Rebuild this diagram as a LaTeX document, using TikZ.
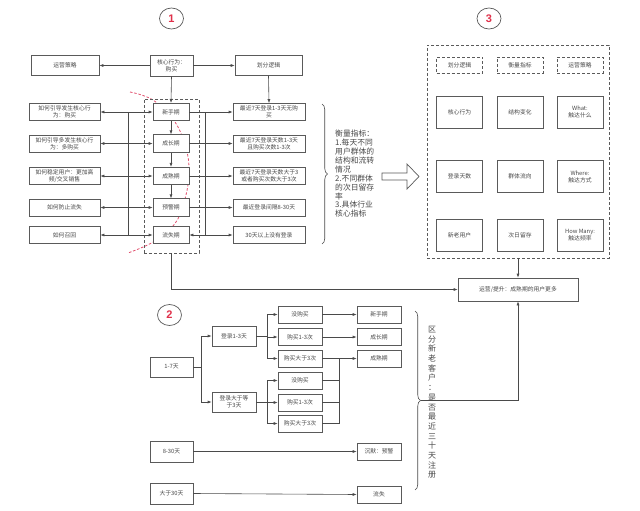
\documentclass[tikz,border=0pt]{standalone}
\usepackage{fontspec}
\setmainfont{Noto Sans CJK SC}
\newfontfamily\numfont{Liberation Sans}
\usetikzlibrary{arrows.meta,calc,decorations.pathreplacing,shapes.geometric}
\definecolor{bc}{HTML}{5A5A5A}
\definecolor{tc}{HTML}{484848}
\definecolor{lc}{HTML}{4A4A4A}
\definecolor{rc}{HTML}{E2506E}
\definecolor{nc}{HTML}{E0304A}
\begin{document}
\begin{tikzpicture}[x=1pt,y=-1pt,
  box/.style={draw=bc, fill=white, line width=0.6pt, inner sep=0.5pt, align=center, text=tc, font=\fontsize{5.8}{7}\selectfont},
  dbox/.style={box, dash pattern=on 3pt off 2pt},
  conn/.style={draw=lc, line width=0.6pt},
  arr/.style={conn, -{Latex[length=4pt,width=3pt]}},
  darr/.style={conn, {Latex[length=4pt,width=3pt]}-{Latex[length=4pt,width=3pt]}},
  grp/.style={draw=bc, dash pattern=on 3pt off 2pt, line width=0.6pt, inner sep=0pt},
  numc/.style={draw=bc, ellipse, line width=0.7pt, minimum width=24pt, minimum height=21pt, inner sep=0pt, text=nc, font=\numfont\fontsize{11}{11}\selectfont\bfseries},
  stg/.style={box, minimum width=36pt, minimum height=17.5pt},
  lft/.style={box, minimum width=71pt, minimum height=17pt},
  rgt/.style={box, minimum width=72pt, minimum height=17pt},
  sb/.style={box, minimum width=44pt, minimum height=17pt},
  tb/.style={box, minimum width=46pt, minimum height=32pt},
  hb/.style={dbox, minimum width=46pt, minimum height=16pt},
  brc/.style={conn, decorate, decoration={brace, amplitude=5.5pt}}
]
\useasboundingbox (0,0) rectangle (640,511);
\fill[white] (0,0) rectangle (640,511);

% ---------- Section 1 ----------
\node[numc] (n1) at (171.5,18.5) {1};

\draw[rc, line width=0.8pt, dash pattern=on 2.5pt off 1.8pt] plot[smooth, tension=0.6] coordinates {(130,92) (153,100) (175,122) (186,148) (189,170) (186,195) (176,222) (155,241) (128,253)};

\node[grp, minimum width=55pt, minimum height=154pt] (g1) at (171.5,176) {};

\node[box, minimum width=43pt, minimum height=21pt] (core) at (171.5,65.5) {核心行为：\\购买};
\node[box, minimum width=68pt, minimum height=20pt] (yy) at (65,65.5) {运营策略};
\node[box, minimum width=67pt, minimum height=20pt] (hf) at (268.5,65.5) {划分逻辑};

\node[stg] (S1) at (171,112) {新手期};
\node[stg] (S2) at (171,143.5) {成长期};
\node[stg] (S3) at (171,176) {成熟期};
\node[stg] (S4) at (171,207.5) {预警期};
\node[stg] (S5) at (171,235) {流失期};

\node[lft] (L1) at (64.5,112) {如何引导发生核心行\\为：购买};
\node[lft] (L2) at (64.5,143.5) {如何引导多发生核心行\\为：多购买};
\node[lft] (L3) at (64.5,176) {如何稳定用户：更加高\\频/交叉销售};
\node[lft] (L4) at (64.5,207.5) {如何防止流失};
\node[lft] (L5) at (64.5,235) {如何召回};

\node[rgt] (R1) at (269,112) {最近7天登录1-3天无购\\买};
\node[rgt] (R2) at (269,143.5) {最近7天登录天数1-3天\\且购买次数1-3次};
\node[rgt] (R3) at (269,176) {最近7天登录天数大于3\\或者购买次数大于3次};
\node[rgt] (R4) at (269,207.5) {最近登录间隔8-30天};
\node[rgt] (R5) at (269,235) {30天以上没有登录};

\draw[arr] (core.west) -- (yy.east);
\draw[arr] (core.east) -- (hf.west);
\draw[arr] (core.south) -- (S1.north);
\draw[arr] (hf.south) -- (R1.north);
\draw[arr] (S1.south) -- (S2.north);
\draw[arr] (S2.south) -- (S3.north);
\draw[arr] (S3.south) -- (S4.north);

\foreach \i in {1,...,5} {\draw[darr] (L\i.east) -- (S\i.west);}
\foreach \i in {1,...,4} {\draw[arr] (S\i.east) -- (R\i.west);}
\draw[darr] (S5.east) -- (R5.west);
\coordinate (lb) at (128,0);
\coordinate (rb) at (205,0);
\draw[conn] (lb |- S1.west) -- (lb |- S5.west);
\draw[conn] (rb |- S1.east) -- (rb |- S5.east);

\draw[brc] (322,104) -- (322,244);
\node[anchor=north west, align=left, inner sep=0pt, text=tc, font=\fontsize{7.8}{8.9}\selectfont] (mt) at (335,130) {衡量指标：\\1.每天不同\\用户群体的\\结构和流转\\情况\\2.不同群体\\的次日留存\\率\\3.具体行业\\核心指标};

\draw[draw=bc, line width=0.7pt, fill=white] (382,173) -- (407,173) -- (407,164) -- (419,176.5) -- (407,189) -- (407,180) -- (382,180) -- cycle;

% ---------- Section 3 ----------
\node[numc] (n3) at (489,18.5) {3};
\node[grp, minimum width=182pt, minimum height=213pt] (g3) at (518,151.5) {};
\node[hb] (h1) at (459.5,65) {划分逻辑};
\node[hb] (h2) at (520,65) {衡量指标};
\node[hb] (h3) at (580,65) {运营策略};
\node[tb] (t11) at (459.5,112) {核心行为};
\node[tb] (t12) at (520,112) {结构变化};
\node[tb] (t13) at (580,112) {What:\\触达什么};
\node[tb] (t21) at (459.5,176.5) {登录天数};
\node[tb] (t22) at (520,176.5) {群体流向};
\node[tb] (t23) at (580,176.5) {Where:\\触达方式};
\node[tb] (t31) at (459.5,235) {新老用户};
\node[tb] (t32) at (520,235) {次日留存};
\node[tb] (t33) at (580,235) {How Many:\\触达频率};

\node[box, minimum width=120pt, minimum height=23pt] (op) at (518,289.5) {运营/提升：成熟期的用户更多};
\draw[arr] (g3.south) -- (op.north);
\draw[arr] (g1.south) |- (op.west);

% ---------- Section 2 ----------
\node[numc] (n2) at (169.5,315) {2};
\node[box, minimum width=43pt, minimum height=20pt] (a17) at (171.5,367) {1-7天};
\node[box, minimum width=44pt, minimum height=20pt] (b1) at (234,336) {登录1-3天};
\node[box, minimum width=44pt, minimum height=20pt] (b2) at (234,402) {登录大于等\\于3天};
\node[sb] (c1) at (300,314.5) {没购买};
\node[sb] (c2) at (300,337) {购买1-3次};
\node[sb] (c3) at (300,358.5) {购买大于3次};
\node[sb] (c4) at (300,380.5) {没购买};
\node[sb] (c5) at (300,402.5) {购买1-3次};
\node[sb] (c6) at (300,423.5) {购买大于3次};
\node[sb] (d1) at (379,314.5) {新手期};
\node[sb] (d2) at (379,337) {成长期};
\node[sb] (d3) at (379,358.5) {成熟期};
\node[box, minimum width=43pt, minimum height=21pt] (e1) at (171.5,451.5) {8-30天};
\node[sb] (f1) at (379,451.5) {沉默：预警};
\node[box, minimum width=43pt, minimum height=21pt] (e2) at (171.5,493.5) {大于30天};
\node[sb] (f2) at (379,494.5) {流失};

\draw[arr] (a17.east) -- ++(8,0) |- (b1.west);
\draw[arr] (a17.east) -- ++(8,0) |- (b2.west);
\foreach \c in {c1,c2,c3} {\draw[arr] (b1.east) -- ++(11,0) |- (\c.west);}
\foreach \c in {c4,c5,c6} {\draw[arr] (b2.east) -- ++(11,0) |- (\c.west);}
\draw[arr] (c1.east) -- (d1.west);
\draw[arr] (c2.east) -- (d2.west);
\draw[arr] (c3.east) -- (d3.west);
\coordinate (mj) at (339,358.5);
\draw[conn] (c6.east) -| (mj);
\draw[conn] (c4.east) -- (c4.east -| mj);
\draw[conn] (c5.east) -- (c5.east -| mj);
\draw[arr] (e1.east) -- (f1.west);
\draw[arr] (e2.east) -- (f2.west);

\draw[brc] (415,311) -- (415,490);
\coordinate (b2tip) at (420.5,400.5);
\draw[arr] (b2tip) -| (op.south);
\node[anchor=north, align=center, inner sep=0pt, text=tc, font=\fontsize{8}{9.7}\selectfont] (vt) at (432,326) {区\\分\\新\\老\\客\\户\\：\\是\\否\\最\\近\\三\\十\\天\\注\\册};
\end{tikzpicture}
\end{document}
